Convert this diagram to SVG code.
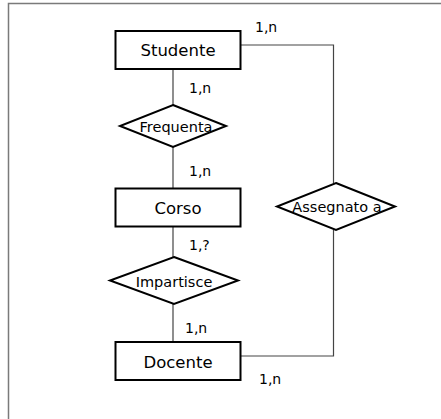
<svg xmlns="http://www.w3.org/2000/svg" width="441" height="419" viewBox="0 0 441 419">
  <style>
    .frame { fill: none; stroke: #7a7a7a; stroke-width: 1.5; }
    .entity rect { fill: #ffffff; stroke: #000000; stroke-width: 2; }
    .relation polygon { fill: #ffffff; stroke: #000000; stroke-width: 2; }
    .link { fill: none; stroke: #444444; stroke-width: 1.2; }
    text { font-family: "Comic Sans MS", "DejaVu Sans", sans-serif; fill: #000000; }
    .name { font-size: 16.5px; text-anchor: middle; }
    .rname { font-size: 14.5px; text-anchor: middle; }
    .card { font-size: 14px; }
  </style>

  <!-- page frame -->
  <path class="frame" d="M8.5,441 V3.5 H441"/>

  <!-- connectors -->
  <g id="connectors">
    <path class="link" d="M173,69 V105"/>
    <path class="link" d="M173,147 V188"/>
    <path class="link" d="M173,227 V257"/>
    <path class="link" d="M173,304 V342"/>
    <path class="link" d="M241,45 H333.5 V183"/>
    <path class="link" d="M241,356 H333.5 V230"/>
    <text class="card" x="189" y="93">1,n</text>
    <text class="card" x="189" y="176">1,n</text>
    <text class="card" x="189" y="250">1,?</text>
    <text class="card" x="185" y="333">1,n</text>
    <text class="card" x="255" y="32">1,n</text>
    <text class="card" x="259" y="384">1,n</text>
  </g>

  <!-- entities -->
  <g id="studente" class="entity">
    <rect x="115.5" y="31" width="125" height="38"/>
    <text class="name" x="178" y="56">Studente</text>
  </g>
  <g id="corso" class="entity">
    <rect x="115.5" y="188.5" width="125" height="38"/>
    <text class="name" x="178" y="214">Corso</text>
  </g>
  <g id="docente" class="entity">
    <rect x="115.5" y="342" width="125" height="38"/>
    <text class="name" x="178" y="368">Docente</text>
  </g>

  <!-- relationships -->
  <g id="frequenta" class="relation">
    <polygon points="173,105 226,126 173,147 120,126"/>
    <text class="rname" x="176" y="132">Frequenta</text>
  </g>
  <g id="impartisce" class="relation">
    <polygon points="174,257 238,280.5 174,304 110,280.5"/>
    <text class="rname" x="174" y="287">Impartisce</text>
  </g>
  <g id="assegnato" class="relation">
    <polygon points="336,183 395,206.5 336,230 277,206.5"/>
    <text class="rname" x="337" y="212">Assegnato a</text>
  </g>
</svg>
